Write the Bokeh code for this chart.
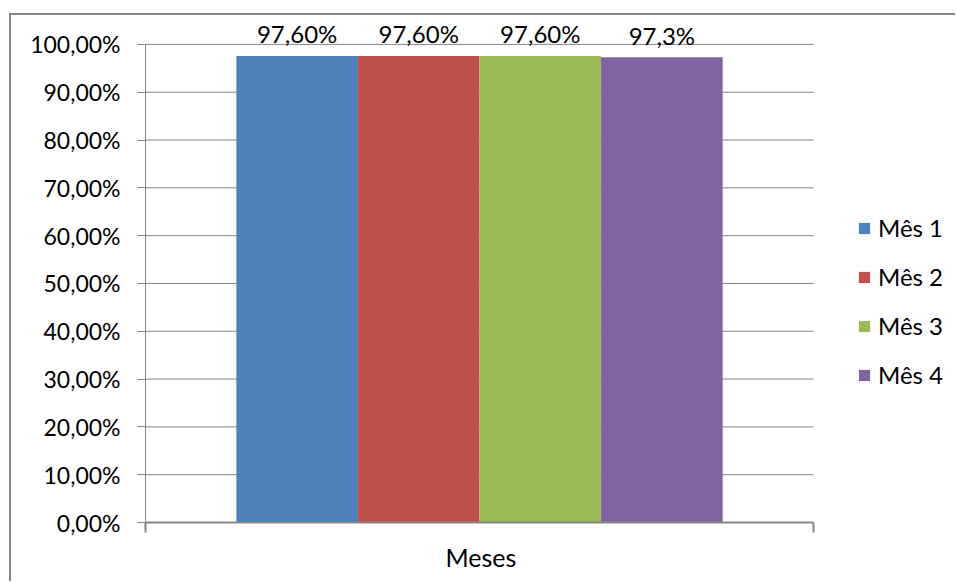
from bokeh.plotting import figure
from bokeh.models import (Range1d, FixedTicker, Legend, LegendItem, ColumnDataSource,
                          Title)
from bokeh.embed import file_html
from bokeh.resources import INLINE

# Monthly values (percent) for the single "Meses" group
series = ["Mês 1", "Mês 2", "Mês 3", "Mês 4"]
values = [97.6, 97.6, 97.6, 97.3]
value_labels = ["97,60%", "97,60%", "97,60%", "97,3%"]
colors = ["#4F81BD", "#C0504D", "#9BBB59", "#8064A2"]
y_ticks = [0, 10, 20, 30, 40, 50, 60, 70, 80, 90, 100]
y_tick_labels = ["0,00%", "10,00%", "20,00%", "30,00%", "40,00%", "50,00%",
                 "60,00%", "70,00%", "80,00%", "90,00%", "100,00%"]
group_label = "Meses"

FONT = "Lato"
GRID = "#868686"

# the chart sits inside a grey frame drawn on its left and top edges
OFF_X, OFF_Y = 11, 15
W, H = 957 - OFF_X, 583 - OFF_Y
PLOT_L, PLOT_R, PLOT_B = 145 - OFF_X, 813 - OFF_X, 522 - OFF_Y
TOP = 20 - OFF_Y
# the category spans x = 0..1; the frame continues to the right for the legend
x_end = (W - PLOT_L) / (PLOT_R - PLOT_L)

p = figure(width=W, height=H, output_backend="svg", toolbar_location=None,
           x_range=Range1d(0, x_end), y_range=Range1d(0, 105.0),
           min_border_left=PLOT_L, min_border_right=0,
           min_border_top=TOP, min_border_bottom=H - PLOT_B)
p.margin = (OFF_Y - 2, 0, 0, OFF_X - 2)
p.styles = {"border-left": f"2px solid {GRID}", "border-top": f"2px solid {GRID}"}
p.outline_line_color = None
p.background_fill_color = "white"
p.border_fill_color = "white"

# horizontal gridlines across the category area only
p.xgrid.grid_line_color = None
p.ygrid.grid_line_color = None
p.segment(x0=[0] * len(y_ticks), x1=[1] * len(y_ticks), y0=y_ticks, y1=y_ticks,
          line_color=GRID, line_width=1)

# dodged bars inside the single category
bar_w = 0.182
n = len(series)
xs = [0.5 + (i - (n - 1) / 2) * bar_w for i in range(n)]
src = ColumnDataSource(dict(x=xs, top=values, label=value_labels))
renderers = []
for i in range(n):
    r = p.vbar(x=[xs[i]], top=[values[i]], bottom=0, width=bar_w,
               fill_color=colors[i], line_color=None)
    renderers.append(r)

p.text(x="x", y="top", text="label", source=src, text_align="center",
       text_baseline="alphabetic", y_offset=-22, text_font_size="24px",
       text_font={"value": FONT}, text_color="#000000")

# y axis
ya = p.yaxis[0]
ya.ticker = FixedTicker(ticks=y_ticks)
ya.major_label_overrides = {t: l for t, l in zip(y_ticks, y_tick_labels)}
ya.bounds = (0, 100)
ya.axis_line_color = GRID
ya.major_tick_line_color = GRID
ya.major_tick_out = 8
ya.major_tick_in = 0
ya.minor_tick_line_color = None
ya.major_label_standoff = 17
ya.major_label_text_font = FONT
ya.major_label_text_font_size = "23px"
ya.major_label_text_color = "#000000"

# x axis: category edges only
xa = p.xaxis[0]
xa.ticker = FixedTicker(ticks=[0, 1])
xa.bounds = (0, 1)
xa.major_label_overrides = {0: "", 1: ""}
xa.axis_line_color = GRID
xa.axis_line_width = 2
xa.major_tick_line_color = GRID
xa.major_tick_line_width = 2
xa.major_tick_out = 10
xa.major_tick_in = 0
xa.minor_tick_line_color = None
xa.major_label_text_font_size = "1px"
xa.major_label_standoff = 0

# category name, centred under the category span (x = 0..1)
p.add_layout(Title(text=group_label, align="left", offset=300,
                   text_font=FONT, text_font_size="25px", text_font_style="normal",
                   text_color="#000000", standoff=15), "below")

legend = Legend(items=[LegendItem(label=series[i], renderers=[renderers[i]])
                       for i in range(n)],
                location=(857 - 145, 133), orientation="vertical",
                glyph_width=14, glyph_height=14, label_height=14,
                label_standoff=7, spacing=20, padding=0, margin=0,
                border_line_color=None, background_fill_alpha=0,
                label_text_font=FONT, label_text_font_size="24px",
                label_text_color="#000000")
p.add_layout(legend, "center")

open("out.html", "w").write(file_html(p, INLINE))
